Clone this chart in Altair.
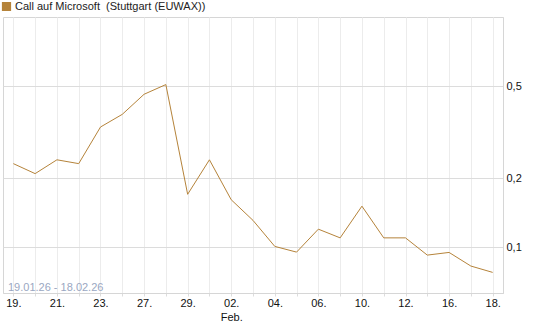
import altair as alt
import pandas as pd

# Trading days (19.01.26 - 18.02.26)
dates = ["2026-01-19", "2026-01-20", "2026-01-21", "2026-01-22", "2026-01-23",
         "2026-01-26", "2026-01-27", "2026-01-28", "2026-01-29", "2026-01-30",
         "2026-02-02", "2026-02-03", "2026-02-04", "2026-02-05", "2026-02-06",
         "2026-02-09", "2026-02-10", "2026-02-11", "2026-02-12", "2026-02-13",
         "2026-02-16", "2026-02-17", "2026-02-18"]
prices = [0.231, 0.209, 0.240, 0.231, 0.333, 0.378, 0.462, 0.509, 0.170, 0.240,
          0.161, 0.131, 0.101, 0.0954, 0.120, 0.110, 0.151, 0.110, 0.110, 0.0926,
          0.0951, 0.083, 0.0779]
tick_labels = ["19.", "", "21.", "", "23.", "", "27.", "", "29.", "", "02.", "",
               "04.", "", "06.", "", "10.", "", "12.", "", "16.", "", "18."]
month_label = {10: "Feb."}
y_ticks = [0.1, 0.2, 0.5]
series_name = "Call auf Microsoft\u00a0 (Stuttgart (EUWAX))"
range_text = "19.01.26 - 18.02.26"
line_color = "#b5833a"

df = pd.DataFrame({"i": list(range(len(dates))), "date": dates, "price": prices,
                   "series": series_name})

parts = []
for k, t in enumerate(tick_labels):
    if k in month_label:
        parts.append("['%s','%s']" % (t, month_label[k]))
    else:
        parts.append("'%s'" % t)
label_expr = "[" + ",".join(parts) + "][datum.value]"

x = alt.X("i:Q",
          scale=alt.Scale(domain=[-0.475, len(dates) - 1 + 0.475], nice=False, zero=False),
          axis=alt.Axis(values=list(range(len(dates))), labelExpr=label_expr, title=None,
                        grid=True, gridColor="#ececec", gridWidth=1,
                        domainColor="#d6d6d6", tickColor="#dddddd", tickSize=3,
                        labelFont="Liberation Sans", labelFontSize=11, labelColor="#111",
                        labelPadding=1, labelLineHeight=14, labelFlush=False,
                        labelOverlap=False, labelAlign="center"))
y = alt.Y("price:Q",
          scale=alt.Scale(type="log", domain=[0.0634, 1.0], nice=False, zero=False),
          axis=alt.Axis(orient="right", values=y_ticks, title=None,
                        labelExpr="replace(format(datum.value, '.1f'), '.', ',')",
                        grid=True, gridColor="#dcdcdc", gridWidth=1,
                        domainColor="#d6d6d6", ticks=False, labelPadding=3,
                        labelFont="Liberation Sans", labelFontSize=11, labelColor="#111"))

line = alt.Chart(df).mark_line(strokeWidth=1, clip=True).encode(
    x=x, y=y,
    color=alt.Color("series:N", scale=alt.Scale(domain=[series_name], range=[line_color]),
                    legend=alt.Legend(orient="none", legendX=-2, legendY=-16, title=None,
                                      symbolType="square", symbolSize=64,
                                      symbolFillColor=line_color, symbolStrokeColor="#4a3212",
                                      symbolStrokeWidth=1.2, symbolOpacity=1,
                                      labelFont="Liberation Sans", labelFontSize=11,
                                      labelColor="#222", labelOffset=3, padding=0,
                                      labelLimit=400))
)

txt = alt.Chart(pd.DataFrame({"t": [range_text]})).mark_text(
    align="left", baseline="alphabetic", font="Liberation Sans", fontSize=11,
    color="#9aa7c2"
).encode(text="t:N", x=alt.value(5), y=alt.value(274))

chart = alt.layer(line, txt).properties(
    width=500, height=276,
    autosize=alt.AutoSizeParams(type="none"),
    padding={"left": 3, "top": 17, "right": 42, "bottom": 34},
    background="white"
).configure_view(stroke="#d6d6d6", strokeWidth=1)

chart.save("out.html", embed_options={"renderer": "svg", "actions": False})
